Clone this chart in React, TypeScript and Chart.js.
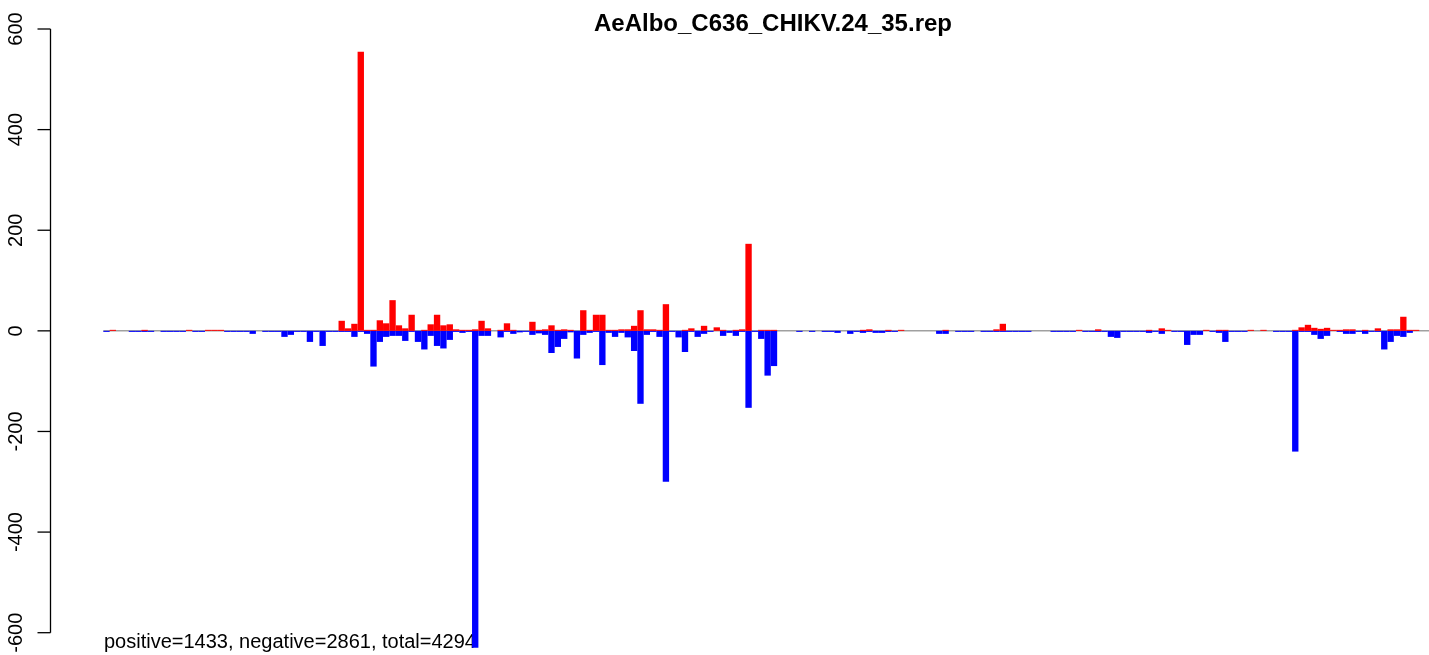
import React, { useEffect, useRef } from "react";
import { Chart, registerables } from "chart.js";

Chart.register(...registerables);

const TITLE = "AeAlbo_C636_CHIKV.24_35.rep";
const FOOTNOTE = "positive=1433, negative=2861, total=4294";
const Y_TICKS = [-600, -400, -200, 0, 200, 400, 600];
const Y_TICK_LABELS = ["-600", "-400", "-200", "0", "200", "400", "600"];

// positive counts per position (red)
const POSITIVE = [
  0, 2, 0, 0, 0, 0, 2, 0, 0, 0,
  0, 0, 0, 2, 0, 0, 2, 2, 2, 0,
  0, 0, 0, 0, 0, 0, 0, 0, 0, 0,
  0, 0, 0, 0, 0, 0, 0, 20, 5, 14,
  555, 2, 2, 21, 15, 61, 11, 5, 32, 0,
  2, 13, 32, 11, 13, 3, 2, 2, 3, 20,
  5, 0, 2, 15, 2, 0, 0, 18, 2, 3,
  11, 2, 3, 2, 0, 41, 2, 32, 32, 2,
  2, 3, 3, 10, 41, 3, 3, 2, 53, 0,
  0, 2, 5, 0, 10, 0, 7, 2, 0, 2,
  3, 173, 0, 2, 2, 2, 0, 0, 0, 0,
  0, 0, 0, 0, 0, 0, 0, 0, 0, 2,
  3, 0, 0, 2, 0, 2, 0, 0, 0, 0,
  0, 0, 2, 0, 0, 0, 0, 0, 0, 0,
  3, 14, 0, 0, 0, 0, 0, 0, 0, 0,
  0, 0, 0, 2, 0, 0, 3, 0, 0, 0,
  0, 0, 0, 0, 2, 0, 5, 2, 0, 0,
  0, 0, 0, 2, 0, 2, 2, 0, 0, 0,
  2, 0, 2, 0, 0, 0, 0, 2, 7, 12,
  6, 4, 6, 2, 2, 3, 3, 0, 2, 0,
  5, 0, 3, 3, 28, 2, 2, 0, 0, 0,
];

// negative counts per position (blue)
const NEGATIVE = [
  -2, 0, 0, 0, -2, -2, -2, -2, 0, -2,
  -2, -2, -2, 0, -2, -2, 0, 0, 0, -2,
  -2, -2, -2, -6, 0, -2, -2, -2, -12, -8,
  -2, -2, -22, -2, -30, -2, -2, -2, -2, -12,
  -2, -6, -71, -22, -12, -10, -10, -20, -2, -22,
  -37, -10, -30, -35, -18, -2, -4, -2, -630, -10,
  -10, 0, -13, -2, -6, -3, -2, -8, -5, -8,
  -44, -32, -16, -3, -55, -8, -4, -2, -68, -4,
  -12, -4, -13, -40, -145, -8, -2, -12, -300, -2,
  -13, -42, -2, -12, -6, -2, 0, -10, -4, -10,
  -2, -153, -2, -16, -89, -70, 0, 0, 0, -2,
  0, -2, 0, -2, -2, -4, 0, -6, -2, -4,
  -2, -4, -4, -2, -2, 0, 0, 0, 0, 0,
  0, -6, -6, 0, -2, -2, -2, 0, -2, -2,
  -2, -2, -2, -2, -2, -2, 0, 0, 0, -2,
  -2, -2, -2, 0, -2, -2, -2, -2, -12, -14,
  -2, -2, -2, -2, -4, -2, -6, 0, -2, -2,
  -28, -8, -8, 0, -2, -4, -22, -2, -2, -2,
  0, 0, 0, 0, -2, -2, -2, -240, -2, -2,
  -8, -16, -10, 0, -2, -6, -6, -2, -6, -2,
  -2, -37, -22, -10, -12, -4, 0, 0, 0, 0,
];

const FONT = '"Liberation Sans", Arial, Helvetica, sans-serif';

const decorPlugin = {
  id: "decor",
  beforeDatasetsDraw(chart: any) {
    const { ctx } = chart;
    const x = chart.scales.x;
    const y = chart.scales.y;
    const y0 = y.getPixelForValue(0);
    ctx.save();
    ctx.strokeStyle = "#a0a0a0";
    ctx.lineWidth = 1.5;
    ctx.beginPath();
    ctx.moveTo(x.getPixelForValue(-0.5), y0);
    ctx.lineTo(x.getPixelForValue(POSITIVE.length - 0.5), y0);
    ctx.stroke();
    ctx.fillStyle = "#000";
    ctx.font = `20px ${FONT}`;
    ctx.textAlign = "left";
    ctx.textBaseline = "alphabetic";
    ctx.fillText(FOOTNOTE, 104, 648);
    ctx.restore();
  },
  afterDraw(chart: any) {
    const { ctx, chartArea } = chart;
    const y = chart.scales.y;
    const axisX = chartArea.left - 0.5;
    ctx.save();
    ctx.strokeStyle = "#000";
    ctx.lineWidth = 1.3;
    ctx.beginPath();
    ctx.moveTo(axisX, y.getPixelForValue(Y_TICKS[0]));
    ctx.lineTo(axisX, y.getPixelForValue(Y_TICKS[Y_TICKS.length - 1]));
    ctx.stroke();
    ctx.fillStyle = "#000";
    ctx.font = `20px ${FONT}`;
    ctx.textAlign = "center";
    ctx.textBaseline = "alphabetic";
    Y_TICKS.forEach((v, i) => {
      const py = y.getPixelForValue(v);
      ctx.beginPath();
      ctx.moveTo(axisX, py);
      ctx.lineTo(axisX - 13, py);
      ctx.stroke();
      ctx.save();
      ctx.translate(21.7, py);
      ctx.rotate(-Math.PI / 2);
      ctx.fillText(Y_TICK_LABELS[i], 0, 0);
      ctx.restore();
    });
    ctx.font = `bold 24px ${FONT}`;
    ctx.textAlign = "center";
    ctx.fillText(TITLE, 773, 30.5);
    ctx.restore();
  },
};

export default function App() {
  const canvasRef = useRef<HTMLCanvasElement | null>(null);

  useEffect(() => {
    const canvas = canvasRef.current;
    if (!canvas) return;
    const n = POSITIVE.length;
    const common = {
      borderWidth: 0,
      barPercentage: 1,
      categoryPercentage: 1,
      grouped: false,
      clip: false,
      inflateAmount: 0,
    };
    const chart = new Chart(canvas, {
      type: "bar",
      data: {
        datasets: [
          {
            label: "positive",
            data: POSITIVE.map((v, i) => ({ x: i, y: v })),
            backgroundColor: "#FF0000",
            ...common,
          } as any,
          {
            label: "negative",
            data: NEGATIVE.map((v, i) => ({ x: i, y: v })),
            backgroundColor: "#0000FF",
            ...common,
          } as any,
        ],
      },
      options: {
        responsive: false,
        animation: false,
        devicePixelRatio: 1,
        layout: { padding: { left: 51, right: 8.3, top: 29, bottom: 22.3 } },
        plugins: {
          legend: { display: false },
          tooltip: { enabled: false },
          title: { display: false },
        },
        scales: {
          x: {
            type: "linear",
            display: false,
            offset: false,
            bounds: "data",
            min: -8.73,
            max: n - 0.5 + 8.4,
            grid: { offset: false },
          },
          y: {
            type: "linear",
            display: false,
            min: -600,
            max: 600,
          },
        },
      },
      plugins: [decorPlugin],
    } as any);
    return () => chart.destroy();
  }, []);

  return (
    <div
      style={{
        position: "absolute",
        left: 0,
        top: 0,
        width: 1429,
        height: 655,
        overflow: "hidden",
        background: "#fff",
      }}
    >
      <canvas
        ref={canvasRef}
        width={1500}
        height={655}
        style={{ width: 1500, height: 655, display: "block" }}
      />
    </div>
  );
}
